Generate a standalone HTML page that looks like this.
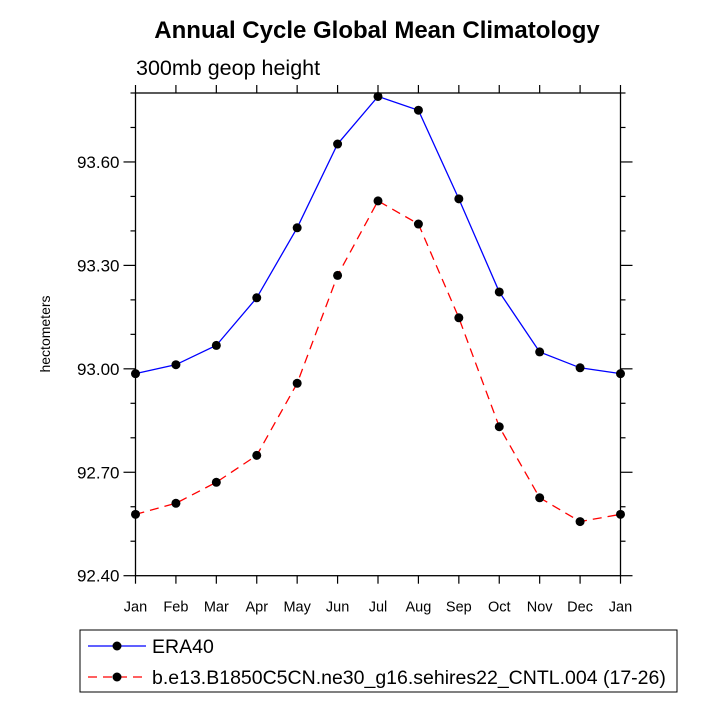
<!DOCTYPE html>
<html><head><meta charset="utf-8"><style>
body{margin:0;background:#fff;font-family:"Liberation Sans",sans-serif;}
svg{display:block}
</style></head><body>
<svg id="chart" width="715" height="715" xmlns="http://www.w3.org/2000/svg">
<text x="377" y="38" text-anchor="middle" font-size="24" font-weight="bold" font-family="Liberation Sans">Annual Cycle Global Mean Climatology</text>
<text x="136" y="75" font-size="21.5" font-family="Liberation Sans">300mb geop height</text>
<text transform="translate(50,334) rotate(-90)" text-anchor="middle" font-size="14" font-family="Liberation Sans">hectometers</text>
<g id="axes"></g>
<g id="series"></g>
<g>
<rect x="80" y="630" width="597" height="62" fill="none" stroke="#000" stroke-width="1"/>
<line x1="88" y1="646" x2="146" y2="646" stroke="#00f" stroke-width="1.3"/>
<circle cx="117" cy="646" r="4.5" fill="#000"/>
<text x="152" y="653" font-size="19.5" font-family="Liberation Sans">ERA40</text>
<line x1="88" y1="677" x2="146" y2="677" stroke="#f00" stroke-width="1.3" stroke-dasharray="9,6"/>
<circle cx="117" cy="677" r="4.5" fill="#000"/>
<text x="152" y="684" font-size="19.5" font-family="Liberation Sans">b.e13.B1850C5CN.ne30_g16.sehires22_CNTL.004 (17-26)</text>
</g>
</svg>
<script>
const months=["Jan","Feb","Mar","Apr","May","Jun","Jul","Aug","Sep","Oct","Nov","Dec","Jan"];
const era40=[92.986,93.012,93.068,93.206,93.409,93.652,93.790,93.750,93.493,93.223,93.049,93.003,92.986];
const model=[92.578,92.610,92.671,92.749,92.958,93.271,93.487,93.420,93.148,92.832,92.626,92.557,92.578];
const yTicks=[92.40,92.70,93.00,93.30,93.60];
const yMin=92.40,yMax=93.80;
const L=135.5,R=620.5,T=93,B=575.7;
const NS="http://www.w3.org/2000/svg";
function xs(i){return L+(R-L)*i/(months.length-1);}
function ys(v){return B-(v-yMin)/(yMax-yMin)*(B-T);}
function mk(tag,attrs,parent){const e=document.createElementNS(NS,tag);for(const k in attrs)e.setAttribute(k,attrs[k]);parent.appendChild(e);return e;}
const ax=document.getElementById('axes');
const frame=mk('rect',{x:L,y:T,width:R-L,height:B-T,fill:'none',stroke:'#000','stroke-width':1.3},ax);


months.forEach((m,i)=>{
  const x=xs(i);
  mk('line',{x1:x,y1:B,x2:x,y2:B+8,stroke:'#000','stroke-width':1.2},ax);
  mk('line',{x1:x,y1:T,x2:x,y2:T-8,stroke:'#000','stroke-width':1.2},ax);
  const t=mk('text',{x:x,y:B+36,'text-anchor':'middle','font-size':14.5,'font-family':'Liberation Sans'},ax);
  t.textContent=m;
  
  
});
for(let v=yMin;v<=yMax+1e-6;v+=0.1){
  const y=ys(v);
  const major=yTicks.some(t=>Math.abs(t-v)<1e-6);
  const len=major?12:5;
  mk('line',{x1:L-len,y1:y,x2:L,y2:y,stroke:'#000','stroke-width':1.2},ax);
  mk('line',{x1:R,y1:y,x2:R+len,y2:y,stroke:'#000','stroke-width':1.2},ax);
}
yTicks.forEach(v=>{
  const t=mk('text',{x:L-16,y:ys(v)+6,'text-anchor':'end','font-size':17,'font-family':'Liberation Sans'},ax);
  t.textContent=v.toFixed(2);
  
  
});
const sg=document.getElementById('series');
function draw(data,color,dash,name){
  const pl=mk('polyline',{points:data.map((v,i)=>xs(i)+','+ys(v)).join(' '),fill:'none',stroke:color,'stroke-width':1.3},sg);
  if(dash)pl.setAttribute('stroke-dasharray',dash);
  
  
  data.forEach((v,i)=>{
    const c=mk('circle',{cx:xs(i),cy:ys(v),r:4.5,fill:'#000'},sg);
    
    
  });
}
draw(era40,'#00f',null,'era40');
draw(model,'#f00','9,6','model');
</script>
</body></html>
